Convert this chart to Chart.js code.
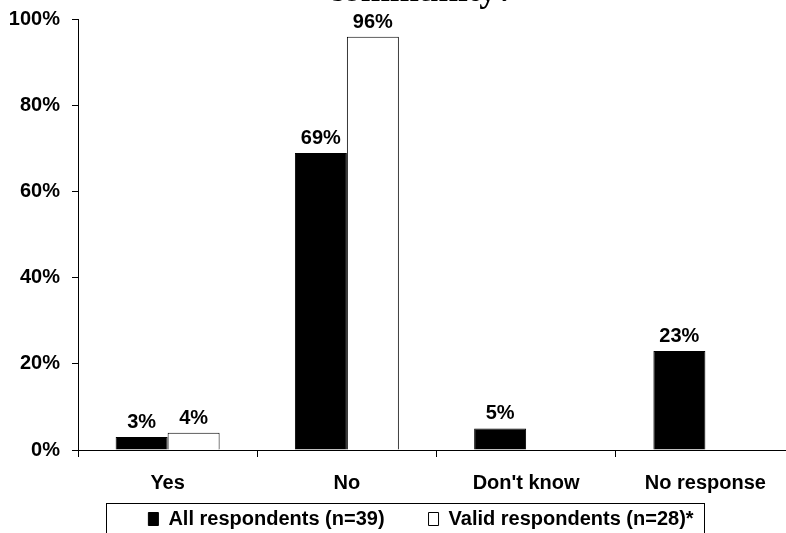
<!DOCTYPE html>
<html>
<head>
<meta charset="utf-8">
<title>Survey chart</title>
<script src="https://cdn.jsdelivr.net/npm/chart.js@4"></script>
<style>
  html, body { margin: 0; padding: 0; background: #fff; overflow: hidden; }
  #wrap { position: absolute; left: 0; top: -29px; width: 842px; height: 600px; }
</style>
</head>
<body>
<div id="wrap"><canvas id="chart" width="842" height="600"></canvas></div>
<script>
const categories = ["Yes", "No", "Don't know", "No response"];
const allRespondents = [3, 69, 5, 23];
const validRespondents = [4, 96, null, null];
const seriesNames = ["All respondents (n=39)", "Valid respondents (n=28)*"];
const titleText = "community?";

const sans = "'Liberation Sans', Arial, sans-serif";

// value labels over the bars
const barLabels = {
    id: "barLabels",
    afterDatasetsDraw(chart) {
        const ctx = chart.ctx;
        ctx.save();
        ctx.font = "bold 20px " + sans;
        ctx.fillStyle = "#000";
        ctx.textAlign = "center";
        ctx.textBaseline = "alphabetic";
        chart.data.datasets.forEach((ds, i) => {
            chart.getDatasetMeta(i).data.forEach((bar, j) => {
                const v = ds.data[j];
                if (v === null) return;
                ctx.fillText(v + "%", bar.x, bar.y - 9);
            });
        });
        ctx.restore();
    },
};

// legend sits closer to the axis labels than its item spacing would allow
const legendLift = {
    id: "legendLift",
    afterLayout(chart) {
        chart.legend.top -= 32;
        chart.legend.bottom -= 32;
    },
};

// frame round the legend
const legendFrame = {
    id: "legendFrame",
    afterDraw(chart) {
        const boxes = chart.legend.legendHitBoxes;
        if (!boxes || !boxes.length) return;
        const left = Math.min(...boxes.map((b) => b.left)) - 42;
        const right = Math.max(...boxes.map((b) => b.left + b.width)) + 11;
        const top = boxes[0].top - 6.5;
        const ctx = chart.ctx;
        ctx.save();
        ctx.strokeStyle = "#000";
        ctx.lineWidth = 1;
        ctx.strokeRect(Math.round(left) + 0.5, Math.round(top) + 0.5, Math.round(right - left), 60);
        ctx.restore();
    },
};

const chart = document.querySelector("#chart").getContext("2d");

new Chart(chart, {
    type: "bar",
    data: {
        labels: categories,
        datasets: [
            {
                label: seriesNames[0],
                data: allRespondents,
                backgroundColor: "#000",
                borderColor: "#000",
                borderWidth: 1,
            },
            {
                label: seriesNames[1],
                data: validRespondents,
                backgroundColor: "#fff",
                borderColor: "#000",
                borderWidth: 1,
            },
        ],
    },
    options: {
        responsive: false,
        animation: false,
        layout: { padding: { bottom: 0 } },
        datasets: {
            bar: { categoryPercentage: 0.58, barPercentage: 1.0 },
        },
        scales: {
            x: {
                grid: {
                    display: true,
                    drawOnChartArea: false,
                    drawTicks: true,
                    tickLength: 7,
                    color: "#000",
                },
                border: { display: true, color: "#000", width: 1 },
                ticks: {
                    color: "#000",
                    padding: 14.5,
                    font: { family: sans, size: 20, weight: "bold" },
                },
                afterFit(scale) {
                    scale.height = 47;
                },
            },
            y: {
                min: 0,
                max: 100,
                grid: {
                    display: true,
                    drawOnChartArea: false,
                    drawTicks: true,
                    tickLength: 6,
                    color: "#000",
                },
                border: { display: true, color: "#000", width: 1 },
                ticks: {
                    stepSize: 20,
                    color: "#000",
                    padding: 12,
                    font: { family: sans, size: 20, weight: "bold" },
                    callback: (v) => v + "%",
                },
                afterFit(scale) {
                    scale.width = 78;
                },
            },
            // empty strip on the right so the plot ends where the original does
            yRight: {
                position: "right",
                display: true,
                grid: { display: false },
                border: { display: false },
                ticks: { display: false },
                afterFit(scale) {
                    scale.width = 47;
                },
            },
        },
        plugins: {
            title: {
                display: true,
                text: titleText,
                color: "#000",
                font: { family: "'Liberation Serif', 'Times New Roman', serif", size: 35, weight: "bold" },
                padding: { top: 0, bottom: 6.5 },
            },
            legend: {
                position: "bottom",
                labels: {
                    color: "#000",
                    boxWidth: 10,
                    boxHeight: 13,
                    padding: 44,
                    font: { family: sans, size: 20, weight: "bold" },
                },
            },
            tooltip: { enabled: false },
        },
    },
    plugins: [barLabels, legendLift, legendFrame],
});
</script>
</body>
</html>
